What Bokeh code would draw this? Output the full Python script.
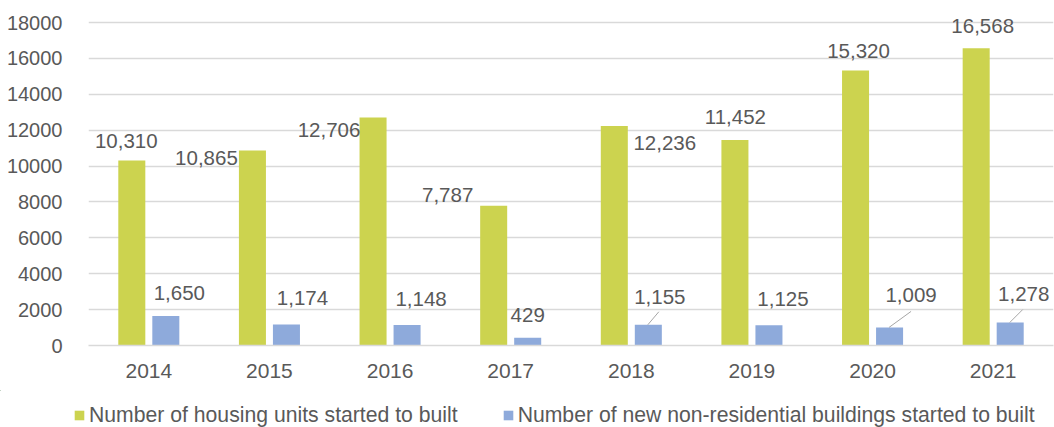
from bokeh.plotting import figure
from bokeh.layouts import column
from bokeh.models import (ColumnDataSource, LabelSet, Legend, LegendItem, FixedTicker,
                          Range1d, BasicTickFormatter)
from bokeh.core.properties import value
from bokeh.embed import file_html
from bokeh.resources import INLINE

# ---- data ----
years = ["2014", "2015", "2016", "2017", "2018", "2019", "2020", "2021"]
housing_units = [10310, 10865, 12706, 7787, 12236, 11452, 15320, 16568]
non_residential = [1650, 1174, 1148, 429, 1155, 1125, 1009, 1278]
series_names = ["Number of housing units started to built",
                "Number of new non-residential buildings started to built"]
y_ticks = [0, 2000, 4000, 6000, 8000, 10000, 12000, 14000, 16000, 18000]

# ---- styles / layout ----
GREEN = "#CCD34F"
BLUE = "#8EAADB"
TEXT = "#595959"
GRID = "#D9D9D9"
FONT = "Liberation Sans"
BAR_W = 0.224
DODGE = 0.141
# label pixel offsets (dx right, dy up) relative to bar top centre
g_off = [(-5.5, 19), (-46, -7.5), (-44, -13), (-46, 11), (50.5, -17), (0.5, 23), (3, 20), (6.5, 22)]
b_off = [(13.5, 23), (16, 26), (14, 26), (0, 23), (11.5, 28), (14, 26), (21.5, 32), (13.5, 29)]
# leader lines: index -> (end dx, end dy) in px
leaders = {4: (10.5, 13), 6: (21.5, 16), 7: (12.5, 13)}

W = 1054
H1, H2 = 390, 37
ML, MR, MT, MB = 88, 1, 10, 45
EXTRA_TOP = 12          # px of headroom above the 18000 gridline
frame_w = W - ML - MR
frame_h = H1 - MT - MB
x_lo, x_hi = -0.5, len(years) - 0.5
y_lo = 0
y_top_tick = 18000
uy = y_top_tick / (frame_h - EXTRA_TOP)
y_hi = y_top_tick + EXTRA_TOP * uy
ux = (x_hi - x_lo) / frame_w

idx = list(range(len(years)))
fmt = lambda v: f"{v:,}"

src_g = ColumnDataSource(dict(
    x=[i - DODGE for i in idx], top=housing_units,
    text=[fmt(v) for v in housing_units],
    dx=[o[0] for o in g_off], dy=[o[1] for o in g_off]))
src_b = ColumnDataSource(dict(
    x=[i + DODGE for i in idx], top=non_residential,
    text=[fmt(v) for v in non_residential],
    dx=[o[0] for o in b_off], dy=[o[1] for o in b_off]))

p = figure(width=W, height=H1, output_backend="svg", toolbar_location=None,
           x_range=Range1d(x_lo, x_hi), y_range=Range1d(y_lo, y_hi),
           min_border_left=ML, min_border_right=MR, min_border_top=MT,
           min_border_bottom=MB)
p.frame_align = False
p.outline_line_color = None
p.background_fill_color = "white"
p.border_fill_color = "white"

rg = p.vbar(x="x", top="top", width=BAR_W, source=src_g, fill_color=GREEN, line_color=None)
rb = p.vbar(x="x", top="top", width=BAR_W, source=src_b, fill_color=BLUE, line_color=None)

# leader lines
lx0, ly0, lx1, ly1 = [], [], [], []
for i, (ex, ey) in leaders.items():
    bx = i + DODGE
    by = non_residential[i]
    lx0.append(bx - 0.5 * ux)
    ly0.append(by)
    lx1.append(bx + ex * ux)
    ly1.append(by + ey * uy)
p.segment(x0=lx0, y0=ly0, x1=lx1, y1=ly1, line_color="#A6A6A6", line_width=1)

for s in (src_g, src_b):
    p.add_layout(LabelSet(x="x", y="top", text="text", source=s,
                          x_offset="dx", y_offset="dy",
                          text_align="center", text_baseline="middle",
                          text_font=value(FONT), text_font_size=value("20.5px"),
                          text_color=TEXT))

# axes
p.xaxis.ticker = FixedTicker(ticks=idx)
p.xaxis.major_label_overrides = {i: y for i, y in zip(idx, years)}
p.xaxis.major_tick_line_color = None
p.xaxis.minor_tick_line_color = None
p.xaxis.axis_line_color = GRID
p.xaxis.axis_line_width = 1.5
p.xaxis.major_label_text_font = FONT
p.xaxis.major_label_text_font_size = "21px"
p.xaxis.major_label_text_color = TEXT
p.xaxis.major_label_standoff = 12

p.yaxis.ticker = FixedTicker(ticks=y_ticks)
p.yaxis.formatter = BasicTickFormatter(use_scientific=False)
p.yaxis.major_tick_line_color = None
p.yaxis.minor_tick_line_color = None
p.yaxis.axis_line_color = None
p.yaxis.major_label_text_font = FONT
p.yaxis.major_label_text_font_size = "20px"
p.yaxis.major_label_text_color = TEXT
p.yaxis.major_label_standoff = 20

p.xgrid.grid_line_color = None
p.ygrid.grid_line_color = GRID
p.ygrid.grid_line_width = 1.5

# ---- legend strip (separate figure below the chart) ----
# ranges lie far away from the bars, so the series renderers here only feed the legend
pl = figure(width=W, height=H2, output_backend="svg", toolbar_location=None,
            x_range=Range1d(1000, 1001), y_range=Range1d(-1e6, -1e6 + 1),
            x_axis_location=None, y_axis_location=None,
            min_border_left=0, min_border_right=0, min_border_top=0, min_border_bottom=0)
pl.frame_align = False
pl.outline_line_color = None
pl.grid.visible = False
lg = pl.vbar(x="x", top="top", width=BAR_W, source=src_g, fill_color=GREEN, line_color=None)
lb = pl.vbar(x="x", top="top", width=BAR_W, source=src_b, fill_color=BLUE, line_color=None)
legend = Legend(items=[LegendItem(label=series_names[0], renderers=[lg]),
                       LegendItem(label=series_names[1], renderers=[lb])],
                orientation="horizontal", location=(73, 0),
                label_text_font=FONT, label_text_font_size="21.2px",
                label_text_color=TEXT, glyph_width=12, glyph_height=12,
                label_standoff=4, spacing=44, padding=0, margin=0,
                border_line_color=None, background_fill_alpha=0)
pl.add_layout(legend, "center")

layout = column(p, pl, spacing=0)
open("out.html", "w").write(file_html(layout, INLINE))
